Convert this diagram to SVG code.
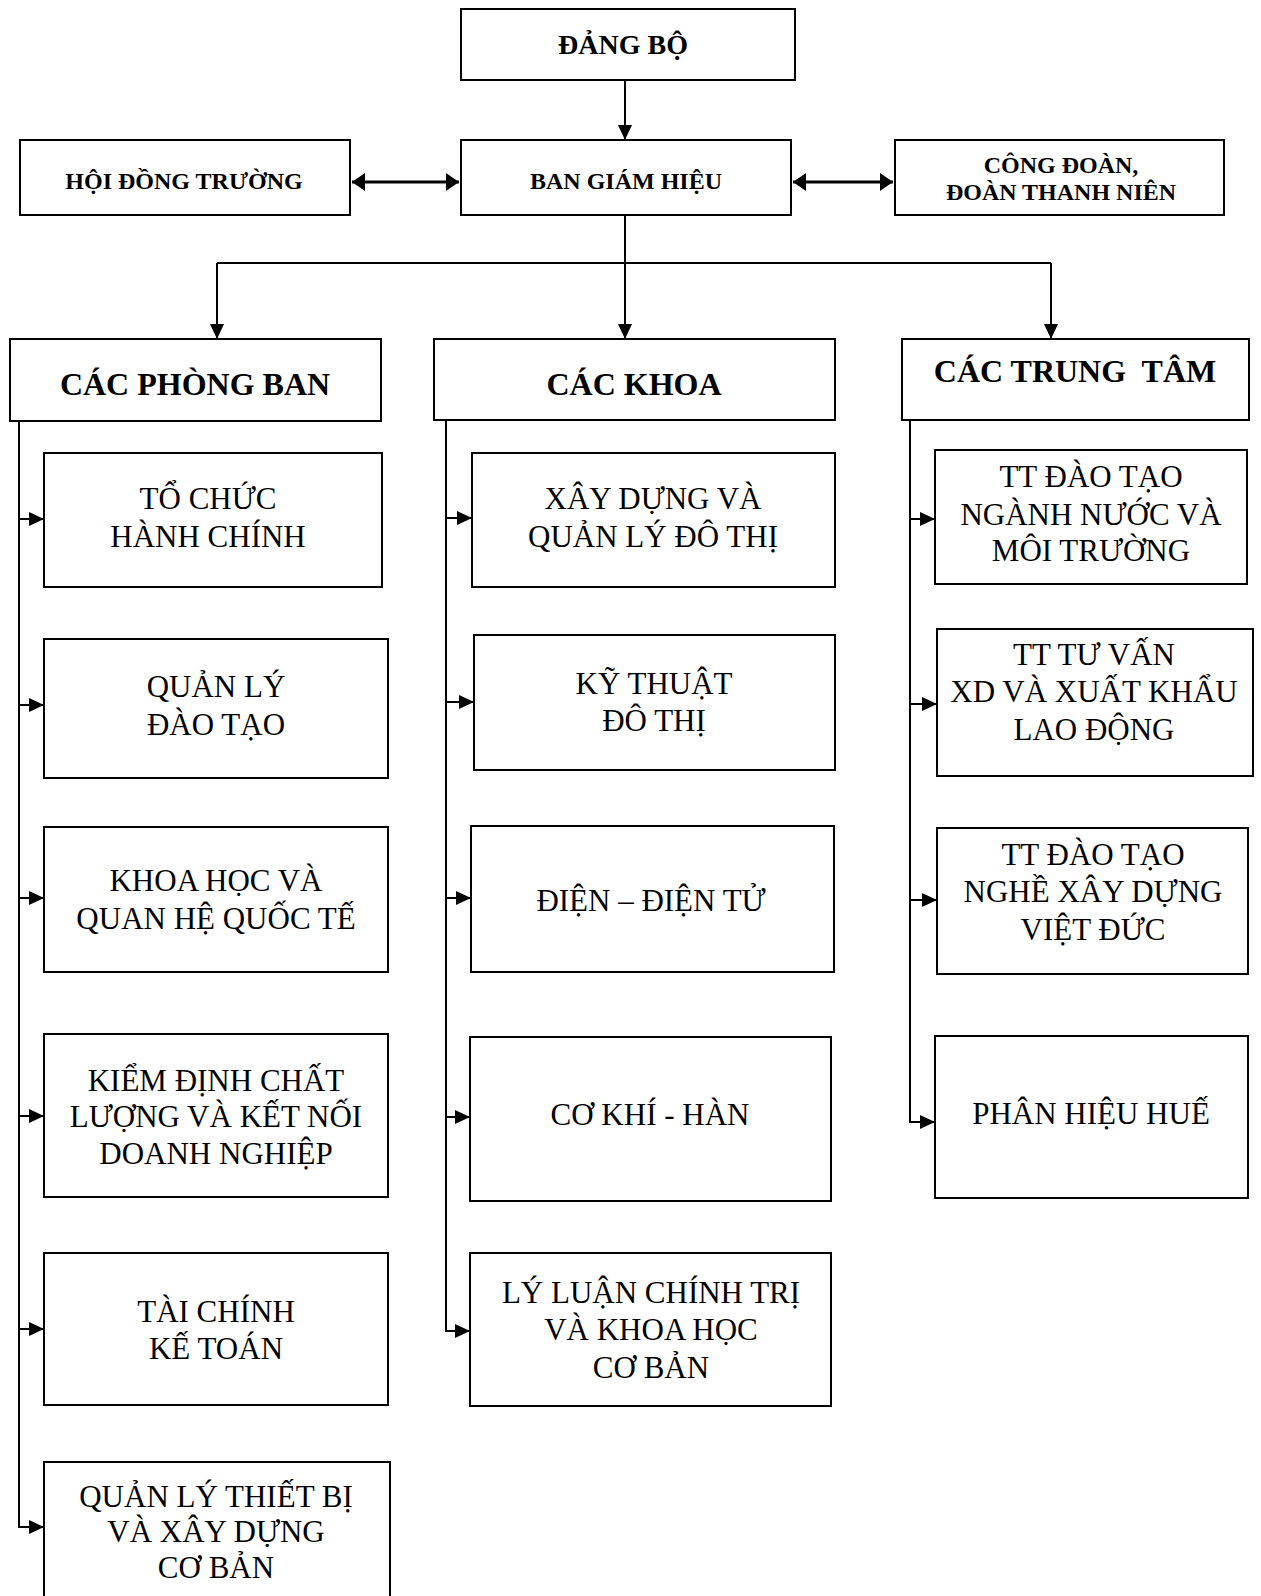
<svg xmlns="http://www.w3.org/2000/svg" width="1261" height="1596" viewBox="0 0 1261 1596">
<style>
.box{fill:#fff;stroke:#000;stroke-width:2}
.b{font-family:"Liberation Serif","Times New Roman",serif;font-weight:bold;text-anchor:middle;fill:#000}
.t{font-family:"Liberation Serif","Times New Roman",serif;font-size:31px;text-anchor:middle;fill:#000}
.c{fill:none;stroke:#000;stroke-width:2}
.ca{fill:none;stroke:#000;stroke-width:2;marker-end:url(#ah)}
.dbl{fill:none;stroke:#000;stroke-width:3;marker-end:url(#ah2);marker-start:url(#ah2)}
</style>
<defs>
<marker id="ah" markerUnits="userSpaceOnUse" markerWidth="16" markerHeight="14" refX="15" refY="7" orient="auto">
<path d="M0,0 L15,7 L0,14 z" fill="#000"/>
</marker>
<marker id="ah2" markerUnits="userSpaceOnUse" markerWidth="14" markerHeight="18" refX="13" refY="9" orient="auto-start-reverse">
<path d="M0,0 L13,9 L0,18 z" fill="#000"/>
</marker>
</defs>
<rect width="1261" height="1596" fill="#fff"/>

<g id="connectors">
<line class="ca" x1="625" y1="80" x2="625" y2="140"/>
<line class="dbl" x1="352" y1="182" x2="459" y2="182"/>
<line class="dbl" x1="793" y1="182" x2="893" y2="182"/>
<polyline class="c" points="625,215 625,263"/>
<polyline class="c" points="217,263 1051,263"/>
<line class="ca" x1="217" y1="263" x2="217" y2="339"/>
<line class="ca" x1="625" y1="263" x2="625" y2="339"/>
<line class="ca" x1="1051" y1="263" x2="1051" y2="339"/>

<polyline class="c" points="19,421 19,1527"/>
<line class="ca" x1="19" y1="519" x2="44" y2="519"/>
<line class="ca" x1="19" y1="705" x2="44" y2="705"/>
<line class="ca" x1="19" y1="898" x2="44" y2="898"/>
<line class="ca" x1="19" y1="1116" x2="44" y2="1116"/>
<line class="ca" x1="19" y1="1329" x2="44" y2="1329"/>
<line class="ca" x1="18" y1="1527" x2="44" y2="1527"/>

<polyline class="c" points="446,420 446,1331"/>
<line class="ca" x1="446" y1="518" x2="472" y2="518"/>
<line class="ca" x1="446" y1="702" x2="474" y2="702"/>
<line class="ca" x1="446" y1="898" x2="471" y2="898"/>
<line class="ca" x1="446" y1="1117" x2="470" y2="1117"/>
<line class="ca" x1="445" y1="1331" x2="470" y2="1331"/>

<polyline class="c" points="910,420 910,1122"/>
<line class="ca" x1="910" y1="519" x2="935" y2="519"/>
<line class="ca" x1="910" y1="704" x2="937" y2="704"/>
<line class="ca" x1="910" y1="900" x2="937" y2="900"/>
<line class="ca" x1="909" y1="1122" x2="935" y2="1122"/>
</g>

<g id="dang-bo"><rect class="box" x="461" y="9" width="334" height="71"/><text class="b" x="623" y="54" font-size="28">ĐẢNG BỘ</text></g>
<g id="hoi-dong-truong"><rect class="box" x="20" y="140" width="330" height="75"/><text class="b" x="184" y="189" font-size="24">HỘI ĐỒNG TRƯỜNG</text></g>
<g id="ban-giam-hieu"><rect class="box" x="461" y="140" width="330" height="75"/><text class="b" x="626" y="189" font-size="24">BAN GIÁM HIỆU</text></g>
<g id="cong-doan"><rect class="box" x="895" y="140" width="329" height="75"/><text class="b" x="1061" y="173" font-size="24">CÔNG ĐOÀN,</text><text class="b" x="1061" y="200" font-size="24">ĐOÀN THANH NIÊN</text></g>

<g id="cac-phong-ban"><rect class="box" x="10" y="339" width="371" height="82"/><text class="b" x="195" y="395" font-size="32">CÁC PHÒNG BAN</text></g>
<g id="cac-khoa"><rect class="box" x="434" y="339" width="401" height="81"/><text class="b" x="634" y="395" font-size="32">CÁC KHOA</text></g>
<g id="cac-trung-tam"><rect class="box" x="902" y="339" width="347" height="81"/><text class="b" x="1075" y="382" font-size="32" xml:space="preserve">CÁC TRUNG  TÂM</text></g>

<g id="to-chuc"><rect class="box" x="44" y="453" width="338" height="134"/><text class="t" x="208" y="509">TỔ CHỨC</text><text class="t" x="208" y="547">HÀNH CHÍNH</text></g>
<g id="quan-ly-dao-tao"><rect class="box" x="44" y="639" width="344" height="139"/><text class="t" x="216" y="697">QUẢN LÝ</text><text class="t" x="216" y="735">ĐÀO TẠO</text></g>
<g id="khoa-hoc"><rect class="box" x="44" y="827" width="344" height="145"/><text class="t" x="216" y="891">KHOA HỌC VÀ</text><text class="t" x="216" y="929">QUAN HỆ QUỐC TẾ</text></g>
<g id="kiem-dinh"><rect class="box" x="44" y="1034" width="344" height="163"/><text class="t" x="216" y="1091">KIỂM ĐỊNH CHẤT</text><text class="t" x="216" y="1127">LƯỢNG VÀ KẾT NỐI</text><text class="t" x="216" y="1164">DOANH NGHIỆP</text></g>
<g id="tai-chinh"><rect class="box" x="44" y="1253" width="344" height="152"/><text class="t" x="216" y="1322">TÀI CHÍNH</text><text class="t" x="216" y="1359">KẾ TOÁN</text></g>
<g id="quan-ly-thiet-bi"><rect class="box" x="44" y="1462" width="346" height="150"/><text class="t" x="216" y="1507">QUẢN LÝ THIẾT BỊ</text><text class="t" x="216" y="1542">VÀ XÂY DỰNG</text><text class="t" x="216" y="1578">CƠ BẢN</text></g>

<g id="xay-dung"><rect class="box" x="472" y="453" width="363" height="134"/><text class="t" x="653" y="509">XÂY DỰNG VÀ</text><text class="t" x="653" y="547">QUẢN LÝ ĐÔ THỊ</text></g>
<g id="ky-thuat"><rect class="box" x="474" y="635" width="361" height="135"/><text class="t" x="654" y="694">KỸ THUẬT</text><text class="t" x="654" y="731">ĐÔ THỊ</text></g>
<g id="dien"><rect class="box" x="471" y="826" width="363" height="146"/><text class="t" x="651" y="911">ĐIỆN – ĐIỆN TỬ</text></g>
<g id="co-khi"><rect class="box" x="470" y="1037" width="361" height="164"/><text class="t" x="650" y="1125">CƠ KHÍ - HÀN</text></g>
<g id="ly-luan"><rect class="box" x="470" y="1253" width="361" height="153"/><text class="t" x="651" y="1303">LÝ LUẬN CHÍNH TRỊ</text><text class="t" x="651" y="1340">VÀ KHOA HỌC</text><text class="t" x="651" y="1378">CƠ BẢN</text></g>

<g id="tt-nganh-nuoc"><rect class="box" x="935" y="450" width="312" height="134"/><text class="t" x="1091" y="487">TT ĐÀO TẠO</text><text class="t" x="1091" y="525">NGÀNH NƯỚC VÀ</text><text class="t" x="1091" y="561">MÔI TRƯỜNG</text></g>
<g id="tt-tu-van"><rect class="box" x="937" y="629" width="316" height="147"/><text class="t" x="1094" y="665">TT TƯ VẤN</text><text class="t" x="1094" y="702">XD VÀ XUẤT KHẨU</text><text class="t" x="1094" y="740">LAO ĐỘNG</text></g>
<g id="tt-viet-duc"><rect class="box" x="937" y="828" width="311" height="146"/><text class="t" x="1093" y="865">TT ĐÀO TẠO</text><text class="t" x="1093" y="902">NGHỀ XÂY DỰNG</text><text class="t" x="1093" y="940">VIỆT ĐỨC</text></g>
<g id="phan-hieu-hue"><rect class="box" x="935" y="1036" width="313" height="162"/><text class="t" x="1091" y="1124">PHÂN HIỆU HUẾ</text></g>
</svg>
